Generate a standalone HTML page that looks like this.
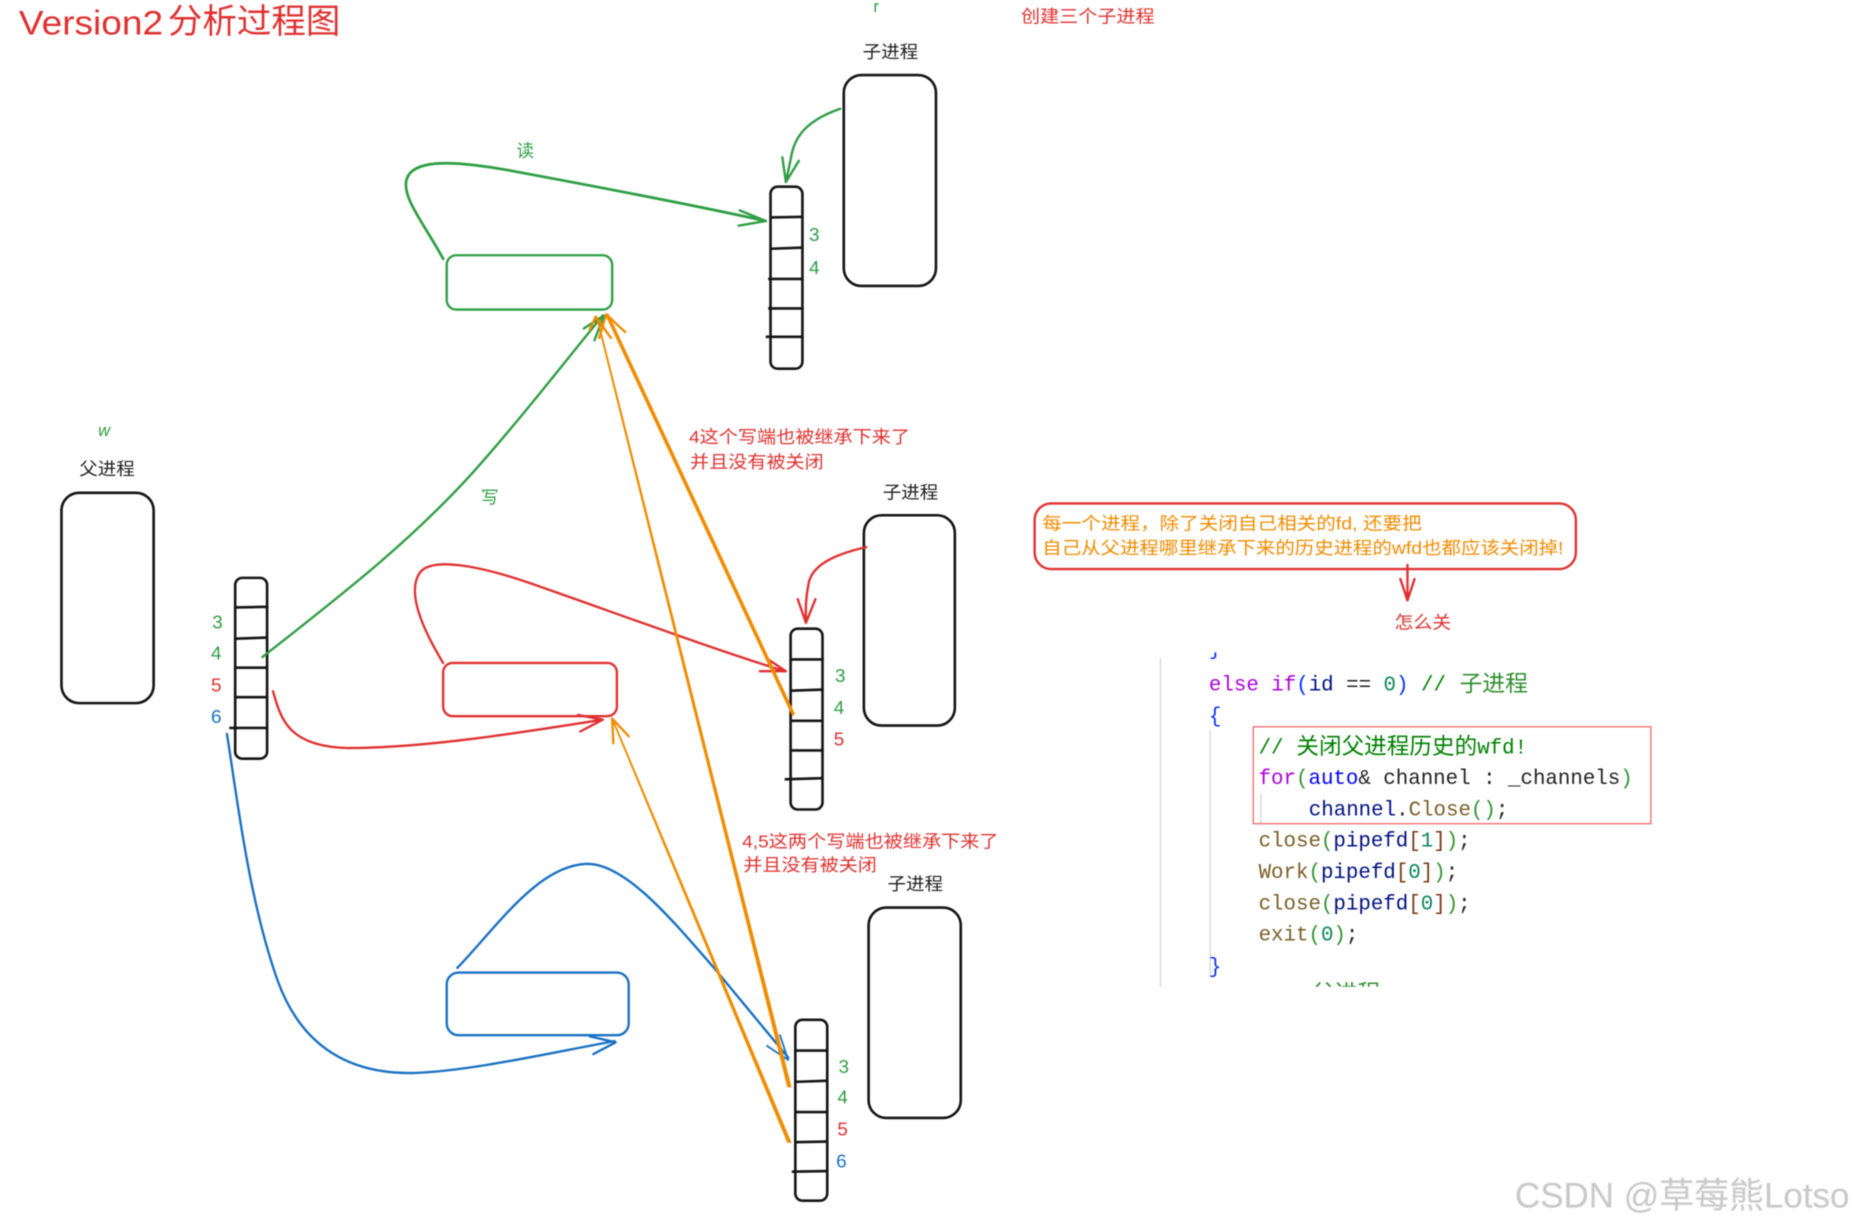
<!DOCTYPE html>
<html><head><meta charset="utf-8"><style>
html,body{margin:0;padding:0;background:#fff;width:1853px;height:1227px;overflow:hidden}
svg{display:block;filter:blur(.45px)}
text{font-family:"Liberation Sans","Noto Sans CJK SC",sans-serif;font-size:15px}
.g{fill:#2f9e44}.r{fill:#e03131}.b{fill:#1971c2}.o{fill:#f08c00}.k{fill:#1e1e1e}
.n{font-size:16px;text-anchor:middle}
.c text,.c{font-family:"Liberation Mono","Noto Sans CJK SC",monospace;font-size:17.6px;white-space:pre}
.blk path,.blk rect{fill:none;stroke:#141414;stroke-width:2.2}
.gs{stroke:#2f9e44}.rs{stroke:#e03131}.bs{stroke:#1971c2}.os{stroke:#f08c00}
.l{fill:none;stroke-width:2;stroke-linecap:round;stroke-linejoin:round}
</style></head><body>
<svg width="1853" height="1227" viewBox="0 0 1568 1038.3" xmlns="http://www.w3.org/2000/svg">
<defs>
<clipPath id="ct"><rect x="1020" y="552" width="14" height="10"/></clipPath>
<clipPath id="cb"><rect x="1105" y="830" width="70" height="5"/></clipPath>
</defs>
<rect width="1568" height="1039" fill="#fff"/>
<text x="16" y="29" class="r" style="font-size:29px" textLength="122" lengthAdjust="spacingAndGlyphs">Version2</text>
<text x="142" y="28" class="r" style="font-size:29px" textLength="146" lengthAdjust="spacingAndGlyphs">分析过程图</text>
<text x="739" y="10" class="g" style="font-size:14px">r</text>
<text x="83" y="369" class="g" style="font-size:14px;font-style:italic">w</text>
<text x="864" y="19" class="r" textLength="113" lengthAdjust="spacingAndGlyphs">创建三个子进程</text>
<text x="730" y="49" class="k" textLength="47" lengthAdjust="spacingAndGlyphs">子进程</text>
<text x="747" y="422" class="k" textLength="47" lengthAdjust="spacingAndGlyphs">子进程</text>
<text x="751" y="753" class="k" textLength="47" lengthAdjust="spacingAndGlyphs">子进程</text>
<text x="67" y="402" class="k" textLength="47" lengthAdjust="spacingAndGlyphs">父进程</text>
<text x="437" y="133" class="g">读</text>
<text x="407" y="426" class="g">写</text>
<text x="583" y="375" class="r" textLength="187" lengthAdjust="spacingAndGlyphs">4这个写端也被继承下来了</text>
<text x="584" y="396" class="r" textLength="113" lengthAdjust="spacingAndGlyphs">并且没有被关闭</text>
<text x="628" y="717" class="r" textLength="217" lengthAdjust="spacingAndGlyphs">4,5这两个写端也被继承下来了</text>
<text x="629" y="737" class="r" textLength="113" lengthAdjust="spacingAndGlyphs">并且没有被关闭</text>
<text x="1180" y="532" class="r" textLength="48" lengthAdjust="spacingAndGlyphs">怎么关</text>
<text x="882" y="448" class="o" textLength="321" lengthAdjust="spacingAndGlyphs">每一个进程，除了关闭自己相关的fd, 还要把</text>
<text x="882" y="469" class="o" textLength="441" lengthAdjust="spacingAndGlyphs">自己从父进程哪里继承下来的历史进程的wfd也都应该关闭掉!</text>

<g class="blk">
<rect x="714" y="63.5" width="78" height="178.5" rx="15"/>
<rect x="731" y="436" width="77" height="178" rx="15"/>
<rect x="735" y="768" width="78" height="178" rx="15"/>
<rect x="52" y="417" width="78" height="178" rx="15"/>
<rect x="652" y="158" width="27" height="154" rx="6"/>
<path d="M652 184L680 183.5M652 210.5L680 209.5M650 236L680 236M650 261L680 261M648 285L680 285"/>
<rect x="669" y="532" width="27" height="153" rx="6"/>
<path d="M669 558L697 558M669 584.5L697 583.5M669 610L696 610M669 635L697 635M664 659.5L696 658.5"/>
<rect x="673" y="863" width="27" height="153" rx="6"/>
<path d="M673 889L701 889M673 915.5L701 914.5M673 941L700 941M673 966.5L700 966M670 991.5L700 991"/>
<rect x="199" y="489" width="27" height="153" rx="6"/>
<path d="M199 514L227 513.5M199 540.5L226 539.5M199 565L226 565M199 590L226 590M194 616L227 616" />
</g>
<g style="font-size:16px">
<text x="689" y="204" class="g n">3</text><text x="689" y="232" class="g n">4</text>
<text x="711" y="577" class="g n">3</text><text x="710" y="604" class="g n">4</text><text x="710" y="631" class="r n">5</text>
<text x="714" y="908" class="g n">3</text><text x="713" y="934" class="g n">4</text><text x="713" y="961" class="r n">5</text><text x="712" y="988" class="b n">6</text>
<text x="184" y="532" class="g n">3</text><text x="183" y="558" class="g n">4</text><text x="183" y="585" class="r n">5</text><text x="183" y="612" class="b n">6</text>
</g>

<rect x="378" y="216" width="140" height="46" rx="8" class="l gs"/>
<rect x="375" y="561" width="147" height="45" rx="8" class="l rs"/>
<rect x="378" y="823" width="154" height="53" rx="10" class="l bs"/>
<rect x="875.5" y="426" width="458" height="55.5" rx="14" class="l rs"/>

<!-- green -->
<path class="l gs" style="stroke-width:2.3" d="M375 219C358 188 340 167 344 152C349 134 385 136 430 144C500 157 580 172 648 187"/>
<path class="l gs" d="M626 178L648 187L625 191"/>
<path class="l gs" d="M711 92C682 102 673 116 670 130Q667 145 665 154"/>
<path class="l gs" d="M662 133L665 154L676 136"/>
<path class="l gs" d="M222 556C300 495 350 455 400 400C440 355 475 310 510 267"/>
<path class="l gs" d="M494 278L511 267L503 288"/>
<!-- red -->
<path class="l rs" d="M375 561C355 528 345 500 355 485C365 470 410 480 450 494C530 522 600 548 664 568"/>
<path class="l rs" d="M650 558L665 568L643 568"/>
<path class="l rs" d="M733 463C702 470 686 480 684 495C681 510 682 520 682 527"/>
<path class="l rs" d="M675 507L682 527L690 507"/>
<path class="l rs" d="M231 585C238 610 245 632 295 633C360 633 440 620 510 609"/>
<path class="l rs" d="M491 619L510 609L489 605"/>
<path class="l rs" d="M1191 478V507M1185 490L1191 508L1197 490"/>
<!-- blue -->
<path class="l bs" d="M192 621C200 670 210 760 235 830C255 885 295 909 350 908C400 906 460 892 520 881"/>
<path class="l bs" d="M502 892L521 882L499 877"/>
<path class="l bs" d="M387 819C420 785 455 732 497 731C530 731 570 780 605 820L667 895"/>
<path class="l bs" style="stroke-width:1.5" d="M660 876L667 897L649 885"/>
<!-- orange -->
<path class="l os" style="stroke-width:3" d="M671 604L514 267"/>
<path class="l os" d="M507 286L513 266L529 281"/>
<polygon fill="#f08c00" points="504.2,268 505.8,268 669.8,920 666.2,920"/>
<path class="l os" d="M499 279L504 268L517 286"/>
<polygon fill="#f08c00" points="517.2,608 518.8,608 669.8,967 666.2,967"/>
<path class="l os" d="M519 629L518 608L532 623"/>

<!-- code -->
<path d="M982 557V835M1024 618V827M1067 672V697" stroke="#d8d8d8" stroke-width="1.2" fill="none"/>
<rect x="1060.5" y="615" width="336.5" height="82" fill="none" stroke="#f45a5a" stroke-width="1"/>
<g class="c">
<g clip-path="url(#ct)"><text x="1023" y="554" fill="#0431fa">}</text></g>
<text x="1023" y="584.5"><tspan fill="#af00db">else if</tspan><tspan fill="#0431fa">(</tspan><tspan fill="#001080">id</tspan><tspan fill="#222"> == </tspan><tspan fill="#098658">0</tspan><tspan fill="#0431fa">)</tspan><tspan fill="#008000"> // </tspan></text>
<text x="1235" y="585" fill="#2f8f2f" style="font-size:19px" textLength="58" lengthAdjust="spacingAndGlyphs">子进程</text>
<text x="1023" y="611" fill="#0431fa">{</text>
<text x="1065" y="637.5" fill="#008000">//</text>
<text x="1097" y="638" fill="#008000" style="font-size:19.2px" textLength="153" lengthAdjust="spacingAndGlyphs">关闭父进程历史的</text>
<text x="1250" y="637.5" fill="#008000">wfd!</text>
<text x="1065" y="663.5"><tspan fill="#af00db">for</tspan><tspan fill="#319331">(</tspan><tspan fill="#0000ff">auto</tspan><tspan fill="#222">&amp; channel : _channels</tspan><tspan fill="#319331">)</tspan></text>
<text x="1107.5" y="690"><tspan fill="#001080">channel</tspan><tspan fill="#222">.</tspan><tspan fill="#795e26">Close</tspan><tspan fill="#319331">()</tspan><tspan fill="#222">;</tspan></text>
<text x="1065" y="716.5"><tspan fill="#795e26">close</tspan><tspan fill="#319331">(</tspan><tspan fill="#001080">pipefd</tspan><tspan fill="#7b3814">[</tspan><tspan fill="#098658">1</tspan><tspan fill="#7b3814">]</tspan><tspan fill="#319331">)</tspan><tspan fill="#222">;</tspan></text>
<text x="1065" y="743"><tspan fill="#795e26">Work</tspan><tspan fill="#319331">(</tspan><tspan fill="#001080">pipefd</tspan><tspan fill="#7b3814">[</tspan><tspan fill="#098658">0</tspan><tspan fill="#7b3814">]</tspan><tspan fill="#319331">)</tspan><tspan fill="#222">;</tspan></text>
<text x="1065" y="769.5"><tspan fill="#795e26">close</tspan><tspan fill="#319331">(</tspan><tspan fill="#001080">pipefd</tspan><tspan fill="#7b3814">[</tspan><tspan fill="#098658">0</tspan><tspan fill="#7b3814">]</tspan><tspan fill="#319331">)</tspan><tspan fill="#222">;</tspan></text>
<text x="1065" y="796"><tspan fill="#795e26">exit</tspan><tspan fill="#319331">(</tspan><tspan fill="#098658">0</tspan><tspan fill="#319331">)</tspan><tspan fill="#222">;</tspan></text>
<text x="1023" y="823" fill="#0431fa">}</text>
<g clip-path="url(#cb)"><text x="1110" y="847" fill="#2f8f2f" style="font-size:19px" textLength="58" lengthAdjust="spacingAndGlyphs">父进程</text></g>
</g>
<text x="1282" y="1022" fill="#c9c9c9" stroke="#dcdcdc" stroke-width=".4" style="font-size:30px" textLength="283" lengthAdjust="spacingAndGlyphs">CSDN @草莓熊Lotso</text>
</svg>
</body></html>
